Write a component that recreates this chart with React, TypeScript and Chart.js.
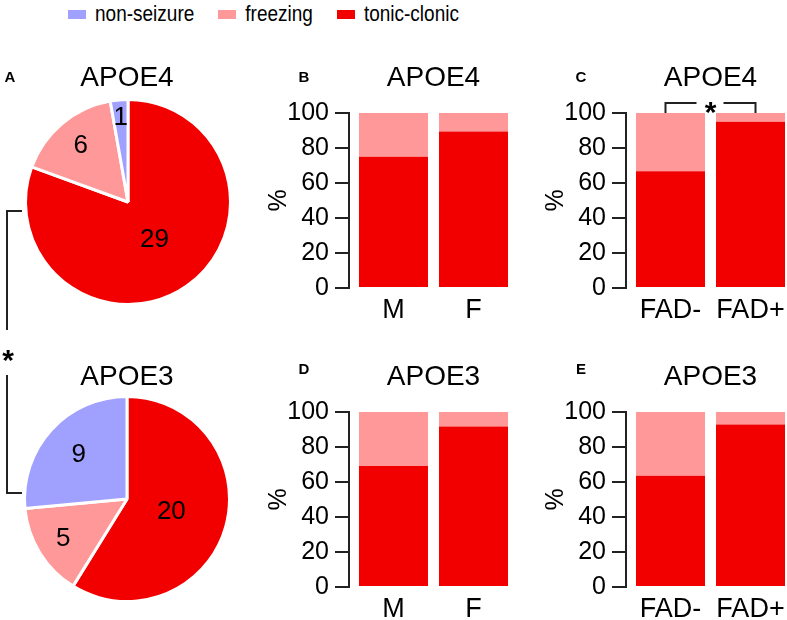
import React, { useEffect, useRef } from 'react';
import { Chart, registerables } from 'chart.js';

Chart.register(...registerables);

const FONT = "'Liberation Sans', Arial, Helvetica, sans-serif";
Chart.defaults.font.family = FONT;
Chart.defaults.color = '#000';

// ---- data ----
const legendLabels = ['non-seizure', 'freezing', 'tonic-clonic'];
const legendColors = ['#A0A0FF', '#FF9999', '#F20000'];

const pieCategories = ['tonic-clonic', 'freezing', 'non-seizure'];
const pieColors = ['#F20000', '#FF9999', '#A0A0FF'];
const pieApoe4 = [29, 6, 1];
const pieApoe3 = [20, 5, 9];

const sexCategories = ['M', 'F'];
const fadCategories = ['FAD-', 'FAD+'];

const apoe4SexTonic = [75, 89.5];
const apoe4SexFreezing = [25, 10.5];
const apoe4FadTonic = [66.7, 95];
const apoe4FadFreezing = [33.3, 5];
const apoe3SexTonic = [69.2, 91.7];
const apoe3SexFreezing = [30.8, 8.3];
const apoe3FadTonic = [63.6, 92.9];
const apoe3FadFreezing = [36.4, 7.1];

const yTicks = [0, 20, 40, 60, 80, 100];

const TONIC = '#F20000';
const FREEZING = '#FF9999';
const LINE = '#222';

// ---- plugins ----
const pieTextPlugin = {
  id: 'pieText',
  afterDatasetsDraw(chart: any) {
    const { ctx } = chart;
    const meta = chart.getDatasetMeta(0);
    const values = chart.data.datasets[0].data;
    ctx.save();
    ctx.fillStyle = '#000';
    ctx.textAlign = 'center';
    ctx.textBaseline = 'middle';
    ctx.font = `26px ${FONT}`;
    meta.data.forEach((arc: any, i: number) => {
      const p = arc.getProps(['x', 'y', 'startAngle', 'endAngle', 'outerRadius'], true);
      const span = p.endAngle - p.startAngle;
      const mid = (p.startAngle + p.endAngle) / 2;
      const frac = 0.45 + 0.4 * (1 - Math.min(span / Math.PI, 1));
      ctx.fillText(String(values[i]), p.x + Math.cos(mid) * p.outerRadius * frac, p.y + Math.sin(mid) * p.outerRadius * frac);
    });
    ctx.restore();
  },
  afterDraw(chart: any, _args: any, opts: any) {
    const { ctx } = chart;
    ctx.save();
    ctx.fillStyle = '#000';
    ctx.textAlign = 'center';
    ctx.textBaseline = 'middle';
    ctx.font = `28px ${FONT}`;
    ctx.fillText(opts.title, opts.titleX, opts.titleY);
    if (opts.letter) {
      ctx.font = `bold 15px ${FONT}`;
      ctx.fillText(opts.letter, opts.letterX, opts.titleY);
    }
    ctx.strokeStyle = LINE;
    ctx.lineWidth = 2;
    if (opts.bracket === 'top') {
      ctx.beginPath();
      ctx.moveTo(22, 171);
      ctx.lineTo(7, 171);
      ctx.lineTo(7, 290);
      ctx.stroke();
    } else if (opts.bracket === 'bottom') {
      ctx.beginPath();
      ctx.moveTo(7, 45);
      ctx.lineTo(7, 163);
      ctx.lineTo(22, 163);
      ctx.stroke();
      ctx.font = `bold 30px ${FONT}`;
      ctx.textBaseline = 'alphabetic';
      ctx.fillText('*', 8, 23 + 0.57 * 30);
    }
    ctx.restore();
  },
};

const barTextPlugin = {
  id: 'barText',
  afterDraw(chart: any, _args: any, opts: any) {
    const { ctx, chartArea } = chart;
    ctx.save();
    ctx.fillStyle = '#000';
    ctx.textAlign = 'center';
    ctx.textBaseline = 'middle';
    ctx.font = `28px ${FONT}`;
    ctx.fillText(opts.title, (chartArea.left + chartArea.right) / 2, chartArea.top - 35);
    ctx.font = `bold 15px ${FONT}`;
    ctx.fillText(opts.letter, chartArea.left - 45, chartArea.top + opts.letterDy);
    if (opts.bracket) {
      const xs = chart.scales.x;
      const x1 = xs.getPixelForValue(0) - 5;
      const x2 = xs.getPixelForValue(1) + 5;
      const yTop = chartArea.top - 10;
      const yBot = chartArea.top;
      const xm = (x1 + x2) / 2;
      ctx.strokeStyle = LINE;
      ctx.lineWidth = 2;
      ctx.beginPath();
      ctx.moveTo(x1, yBot);
      ctx.lineTo(x1, yTop);
      ctx.lineTo(xm - 14, yTop);
      ctx.moveTo(xm + 13, yTop);
      ctx.lineTo(x2, yTop);
      ctx.lineTo(x2, yBot);
      ctx.stroke();
      ctx.font = `bold 30px ${FONT}`;
      ctx.textBaseline = 'alphabetic';
      ctx.fillText('*', xm, yTop + 2 + 0.57 * 30);
    }
    ctx.restore();
  },
};

// ---- components ----
type PieProps = {
  values: number[];
  title: string;
  letter?: string;
  left: number;
  top: number;
  padTop: number;
  padRight: number;
  titleX: number;
  titleY: number;
  bracket: 'top' | 'bottom';
};

function PieChart(props: PieProps) {
  const ref = useRef<HTMLCanvasElement>(null);
  useEffect(() => {
    if (!ref.current) return;
    const chart = new Chart(ref.current, {
      type: 'pie',
      data: {
        labels: pieCategories,
        datasets: [
          {
            data: props.values,
            backgroundColor: pieColors,
            borderColor: '#fff',
            borderWidth: 3,
          },
        ],
      },
      options: {
        responsive: false,
        animation: false,
        events: [],
        radius: 102.5,
        layout: { padding: { top: props.padTop, right: props.padRight, left: 0, bottom: 0 } },
        plugins: {
          legend: { display: false },
          tooltip: { enabled: false },
          pieText: {
            title: props.title,
            titleX: props.titleX,
            titleY: props.titleY,
            letter: props.letter,
            letterX: 10,
            bracket: props.bracket,
          },
        } as any,
      } as any,
      plugins: [pieTextPlugin],
    });
    return () => chart.destroy();
  }, []);
  return (
    <canvas
      ref={ref}
      width={256}
      height={290}
      style={{ position: 'absolute', left: props.left, top: props.top, width: 256, height: 290 }}
    />
  );
}

type BarProps = {
  categories: string[];
  tonic: number[];
  freezing: number[];
  title: string;
  letter: string;
  letterDy: number;
  bracket?: boolean;
  left: number;
  top: number;
};

function BarChart(props: BarProps) {
  const ref = useRef<HTMLCanvasElement>(null);
  useEffect(() => {
    if (!ref.current) return;
    const cats = props.categories;
    const chart = new Chart(ref.current, {
      type: 'bar',
      data: {
        datasets: [
          {
            label: 'tonic-clonic',
            data: props.tonic.map((v, i) => ({ x: i, y: v })),
            backgroundColor: TONIC,
            stack: 's',
            barPercentage: 1,
            categoryPercentage: 0.8625,
            borderWidth: 0,
          },
          {
            label: 'freezing',
            data: props.freezing.map((v, i) => ({ x: i, y: v })),
            backgroundColor: FREEZING,
            stack: 's',
            barPercentage: 1,
            categoryPercentage: 0.8625,
            borderWidth: 0,
          },
        ],
      },
      options: {
        responsive: false,
        animation: false,
        events: [],
        layout: { padding: { top: 73, right: 2, left: 0, bottom: 2 } },
        plugins: {
          legend: { display: false },
          tooltip: { enabled: false },
          barText: {
            title: props.title,
            letter: props.letter,
            letterDy: props.letterDy,
            bracket: !!props.bracket,
          },
        } as any,
        scales: {
          x: {
            type: 'linear',
            offset: false,
            min: -0.556,
            max: 1.556,
            grid: { display: false, drawTicks: false, offset: false },
            border: { display: false },
            afterBuildTicks: (s: any) => {
              s.ticks = cats.map((_, i) => ({ value: i }));
            },
            afterFit: (s: any) => {
              s.height = 40;
            },
            ticks: {
              autoSkip: false,
              maxRotation: 0,
              padding: 6,
              color: '#000',
              font: { size: 27, family: FONT },
              callback: (v: any) => cats[v] ?? '',
            },
          },
          y: {
            type: 'linear',
            stacked: true,
            min: 0,
            max: 100,
            afterBuildTicks: (s: any) => {
              s.ticks = yTicks.map((v) => ({ value: v }));
            },
            afterFit: (s: any) => {
              s.width = 89;
            },
            grid: {
              display: true,
              drawOnChartArea: false,
              drawTicks: true,
              tickLength: 14,
              color: LINE,
              lineWidth: 2,
            },
            border: { display: true, color: LINE, width: 2 },
            ticks: {
              padding: 6,
              color: '#000',
              font: { size: 25, family: FONT },
            },
            title: {
              display: true,
              text: '%',
              color: '#000',
              font: { size: 25, family: FONT },
              padding: { top: 4, bottom: 4 },
            },
          },
        },
      } as any,
      plugins: [barTextPlugin],
    });
    return () => chart.destroy();
  }, []);
  return (
    <canvas
      ref={ref}
      width={260}
      height={290}
      style={{ position: 'absolute', left: props.left, top: props.top, width: 260, height: 290 }}
    />
  );
}

function Legend() {
  return (
    <div
      style={{
        position: 'absolute',
        left: 68,
        top: 0,
        height: 28,
        display: 'flex',
        alignItems: 'center',
        fontFamily: FONT,
        fontSize: 19,
        color: '#000',
        whiteSpace: 'nowrap',
      }}
    >
      {legendLabels.map((label, i) => (
        <div key={label} style={{ display: 'flex', alignItems: 'center', marginRight: 24 }}>
          <span style={{ display: 'inline-block', width: 18, height: 9, background: legendColors[i], marginRight: 9 }} />
          <span style={{ display: 'inline-block', transform: 'scaleY(1.18)' }}>{label}</span>
        </div>
      ))}
    </div>
  );
}

export default function App() {
  return (
    <div
      style={{
        position: 'absolute',
        left: 0,
        top: 0,
        width: 787,
        height: 620,
        overflow: 'hidden',
        background: '#fff',
      }}
    >
      <Legend />
      <PieChart values={pieApoe4} title="APOE4" letter="A" left={0} top={40} padTop={34} padRight={0} titleX={127} titleY={38} bracket="top" />
      <PieChart values={pieApoe3} title="APOE3" left={0} top={330} padTop={48} padRight={2} titleX={127} titleY={47} bracket="bottom" />
      <BarChart categories={sexCategories} tonic={apoe4SexTonic} freezing={apoe4SexFreezing} title="APOE4" letter="B" letterDy={-35} left={260} top={40} />
      <BarChart categories={fadCategories} tonic={apoe4FadTonic} freezing={apoe4FadFreezing} title="APOE4" letter="C" letterDy={-35} bracket left={537} top={40} />
      <BarChart categories={sexCategories} tonic={apoe3SexTonic} freezing={apoe3SexFreezing} title="APOE3" letter="D" letterDy={-42} left={260} top={339} />
      <BarChart categories={fadCategories} tonic={apoe3FadTonic} freezing={apoe3FadFreezing} title="APOE3" letter="E" letterDy={-42} left={537} top={339} />
    </div>
  );
}
